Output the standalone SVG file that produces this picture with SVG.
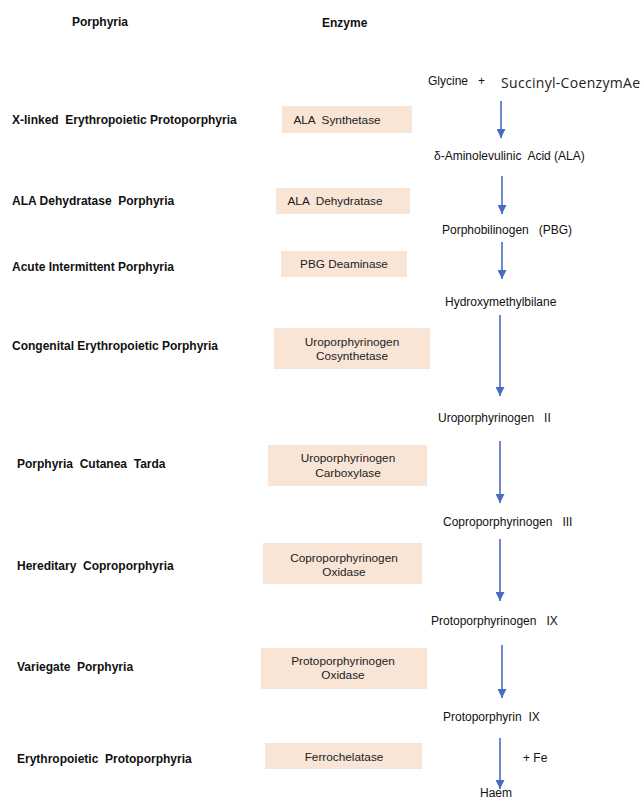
<svg xmlns="http://www.w3.org/2000/svg" width="641" height="800" viewBox="0 0 641 800">
<style>
.hdr{font-family:"Liberation Sans",Arial,sans-serif;font-size:12px;font-weight:bold;fill:#111;}
.dis{font-family:"Liberation Sans",Arial,sans-serif;font-size:12px;font-weight:bold;fill:#111;white-space:pre;}
.box{fill:#F8E5D6;}
.enz{font-family:"Liberation Sans",Arial,sans-serif;font-size:11.8px;fill:#222;text-anchor:middle;white-space:pre;}
.met{font-family:"Liberation Sans",Arial,sans-serif;font-size:12px;fill:#111;white-space:pre;}
.suc{font-family:"Open Sans","Noto Sans",sans-serif;font-size:14px;fill:#222;}
.arr{stroke:#4A6CC0;stroke-width:1.6;fill:none;marker-end:url(#ah);}
</style>
<defs>
<marker id="ah" viewBox="0 0 10 10" refX="10" refY="5" markerWidth="9" markerHeight="9" markerUnits="userSpaceOnUse" orient="auto">
<path d="M0,0 L10,5 L0,10 z" fill="#4A6CC0"/>
</marker>
</defs>
<rect width="641" height="800" fill="#fff"/>
<g id="headers">
<text class="hdr" x="72" y="26">Porphyria</text>
<text class="hdr" x="322" y="27">Enzyme</text>
</g>
<g id="porphyrias">
<text class="dis" x="12" y="124">X-linked  Erythropoietic Protoporphyria</text>
<text class="dis" x="12" y="205">ALA Dehydratase  Porphyria</text>
<text class="dis" x="12" y="271">Acute Intermittent Porphyria</text>
<text class="dis" x="12" y="350">Congenital Erythropoietic Porphyria</text>
<text class="dis" x="17" y="468">Porphyria  Cutanea  Tarda</text>
<text class="dis" x="17" y="570">Hereditary  Coproporphyria</text>
<text class="dis" x="17" y="671">Variegate  Porphyria</text>
<text class="dis" x="17" y="763">Erythropoietic  Protoporphyria</text>
</g>
<g id="enzyme-ala-synthetase">
<rect class="box" x="282" y="106" width="130" height="27"/>
<text class="enz" x="337" y="124">ALA  Synthetase</text>
</g>
<g id="enzyme-ala-dehydratase">
<rect class="box" x="276" y="188" width="134" height="26"/>
<text class="enz" x="335" y="205">ALA  Dehydratase</text>
</g>
<g id="enzyme-pbg-deaminase">
<rect class="box" x="281" y="251" width="126" height="26"/>
<text class="enz" x="344" y="268">PBG Deaminase</text>
</g>
<g id="enzyme-uro-cosynthetase">
<rect class="box" x="274" y="328" width="156" height="41"/>
<text class="enz" x="352" y="346">Uroporphyrinogen</text>
<text class="enz" x="352" y="360">Cosynthetase</text>
</g>
<g id="enzyme-uro-carboxylase">
<rect class="box" x="268" y="445" width="159" height="41"/>
<text class="enz" x="348" y="462">Uroporphyrinogen</text>
<text class="enz" x="348" y="477">Carboxylase</text>
</g>
<g id="enzyme-copro-oxidase">
<rect class="box" x="263" y="543" width="159" height="41"/>
<text class="enz" x="344" y="562">Coproporphyrinogen</text>
<text class="enz" x="344" y="576">Oxidase</text>
</g>
<g id="enzyme-proto-oxidase">
<rect class="box" x="261" y="648" width="166" height="41"/>
<text class="enz" x="343" y="665">Protoporphyrinogen</text>
<text class="enz" x="343" y="679">Oxidase</text>
</g>
<g id="enzyme-ferrochelatase">
<rect class="box" x="265" y="743" width="157" height="26"/>
<text class="enz" x="344" y="761">Ferrochelatase</text>
</g>
<g id="metabolites">
<text class="met" x="428" y="85">Glycine   +</text>
<text class="suc" x="501" y="88" textLength="139">Succinyl-CoenzymAe</text>
<text class="met" x="434" y="160">δ-Aminolevulinic  Acid (ALA)</text>
<text class="met" x="442" y="234">Porphobilinogen   (PBG)</text>
<text class="met" x="445" y="306">Hydroxymethylbilane</text>
<text class="met" x="438" y="422">Uroporphyrinogen   II</text>
<text class="met" x="443" y="526">Coproporphyrinogen   III</text>
<text class="met" x="431" y="625">Protoporphyrinogen   IX</text>
<text class="met" x="443" y="721">Protoporphyrin  IX</text>
<text class="met" x="523" y="762">+ Fe</text>
<text class="met" x="480" y="797">Haem</text>
</g>
<g id="connectors">
<path class="arr" d="M501,101 V138"/>
<path class="arr" d="M502,176 V214"/>
<path class="arr" d="M502,242 V279"/>
<path class="arr" d="M500,315 V396"/>
<path class="arr" d="M500,441 V503"/>
<path class="arr" d="M500,539 V601"/>
<path class="arr" d="M502,645 V698"/>
<path class="arr" d="M500,738 V789"/>
</g>
</svg>
